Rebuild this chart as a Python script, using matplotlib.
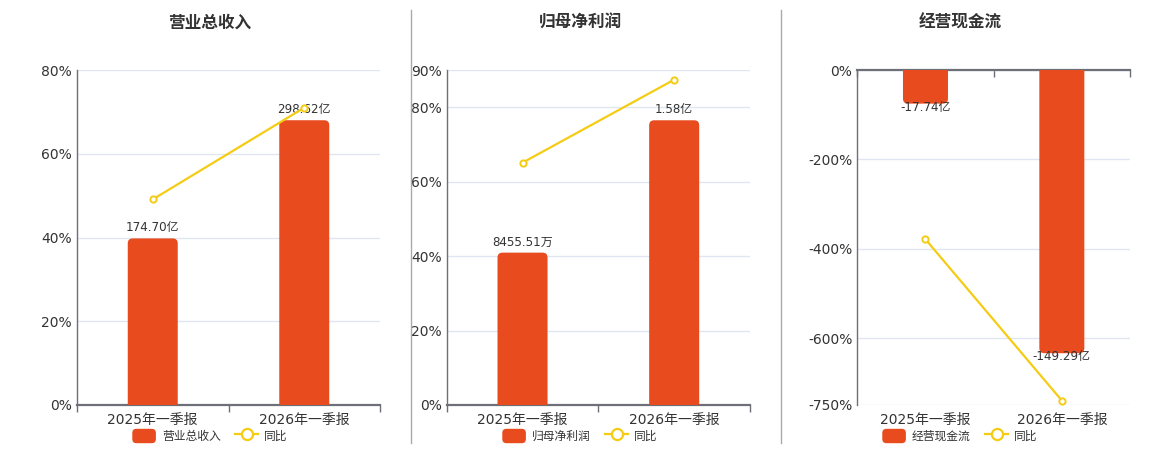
import matplotlib
matplotlib.use('Agg')
import matplotlib.pyplot as plt
from matplotlib.lines import Line2D
from matplotlib.patches import FancyBboxPatch, Patch
from matplotlib.legend_handler import HandlerPatch

plt.rcParams['font.family'] = ['DejaVu Sans', 'Noto Sans CJK SC']

periods = ['2025年一季报', '2026年一季报']

titles = ['营业总收入', '归母净利润', '经营现金流']
bar_values = [[174.70, 298.62], [0.845551, 1.58], [-17.74, -149.29]]  # 亿
bar_labels = [['174.70亿', '298.62亿'], ['8455.51万', '1.58亿'], ['-17.74亿', '-149.29亿']]
yoy_values = [[49.1, 71.0], [65.1, 87.4], [-379.0, -740.0]]  # %
pct_ticks = [[0, 20, 40, 60, 80], [0, 20, 40, 60, 80, 90], [0, -200, -400, -600, -750]]
pct_limits = [(0, 80), (0, 90), (-750, 0)]
bar_limits = [(0, 351.3), (0, 1.859), (-176.6, 0)]

BAR_COLOR = '#E84C1E'
LINE_COLOR = '#F5CC14'
AXIS_COLOR = '#6E7079'
GRID_COLOR = '#E0E6F1'
TEXT_COLOR = '#333333'

W, H = 1160, 450
# axes positions in pixels: left, right, top, bottom
panels = [(77, 380, 70, 405), (446.7, 750, 70, 405), (857.3, 1130, 70, 405)]
centers = [210, 580, 960]
RADIUS_PX = 5


def rounded_legend_patch(legend, orig_handle, xdescent, ydescent, width, height, fontsize):
    return FancyBboxPatch((-xdescent, -ydescent), width, height,
                          boxstyle='round,pad=0,rounding_size=3')


fig = plt.figure(figsize=(W / 100, H / 100), dpi=100)

for i in range(3):
    l, r, t, b = panels[i]
    ax = fig.add_axes([l / W, 1 - b / H, (r - l) / W, (b - t) / H])
    ax.set_xlim(-0.5, 1.5)
    ax.set_ylim(*pct_limits[i])
    ax.set_yticks(pct_ticks[i])
    ax.set_yticklabels([f'{v}%' for v in pct_ticks[i]])
    ax.tick_params(axis='y', length=0, pad=3.6, labelsize=10, labelcolor=TEXT_COLOR)
    ax.grid(axis='y', color=GRID_COLOR, linewidth=1)
    ax.set_axisbelow(True)
    ax.set_xticks(range(len(periods)))
    ax.set_xticklabels(periods)
    ax.set_xticks([-0.5, 0.5, 1.5], minor=True)
    ax.tick_params(axis='x', which='major', length=0, pad=6, labelsize=10, labelcolor=TEXT_COLOR)
    for s in ['top', 'right', 'bottom', 'left']:
        ax.spines[s].set_color(AXIS_COLOR)
    ax.spines['right'].set_visible(False)
    ax.spines['left'].set_linewidth(1)
    negative = pct_limits[i][1] == 0
    if negative:
        # axis line sits at zero, which is the top here
        ax.spines['bottom'].set_visible(False)
        ax.spines['top'].set_linewidth(1.6)
        ax.tick_params(axis='x', which='minor', top=True, bottom=False, direction='in',
                       length=5, color=AXIS_COLOR, width=1)
    else:
        ax.spines['top'].set_visible(False)
        ax.spines['bottom'].set_linewidth(1.6)
        ax.tick_params(axis='x', which='minor', bottom=True, direction='out',
                       length=5, color=AXIS_COLOR, width=1)

    # bars on their own hidden scale
    axb = ax.twinx()
    axb.set_ylim(*bar_limits[i])
    axb.set_axis_off()
    bars = axb.bar(range(len(periods)), bar_values[i], width=0.33, color=BAR_COLOR, zorder=2)
    axb.bar_label(bars, labels=bar_labels[i], padding=-2 if negative else 3,
                  fontsize=8.6, color=TEXT_COLOR, zorder=3)

    # rounded ends: the box runs past the baseline and the axes clip it there
    x_per_px = 2.0 / (r - l)
    y_per_px = (bar_limits[i][1] - bar_limits[i][0]) / (b - t)
    extra = 2 * RADIUS_PX * y_per_px
    for rect in bars:
        x0, w = rect.get_x(), rect.get_width()
        y0, h = rect.get_y(), rect.get_height()
        if h >= 0:
            lo, hgt = y0 - extra, h + extra
        else:
            lo, hgt = y0 + h, -h + extra
        box = FancyBboxPatch((x0, lo), w, hgt,
                             boxstyle=f'round,pad=0,rounding_size={RADIUS_PX * x_per_px}',
                             mutation_aspect=y_per_px / x_per_px,
                             facecolor=BAR_COLOR, edgecolor='none', zorder=2)
        axb.add_patch(box)
        rect.set_visible(False)

    # yoy line on the percent scale
    axl = ax.twinx()
    axl.set_ylim(*pct_limits[i])
    axl.set_axis_off()
    axl.plot(range(len(periods)), yoy_values[i], color=LINE_COLOR, linewidth=1.6,
             marker='o', markersize=4.5, markerfacecolor='white',
             markeredgecolor=LINE_COLOR, markeredgewidth=1.4, clip_on=False)

    fig.text(centers[i] / W, 1 - 23 / H, titles[i], ha='center', va='center',
             fontsize=12, fontweight='bold', color=TEXT_COLOR)

    handles = [Patch(facecolor=BAR_COLOR, edgecolor='none'),
               Line2D([0], [0], color=LINE_COLOR, linewidth=1.6, marker='o', markersize=8,
                      markerfacecolor='white', markeredgecolor=LINE_COLOR, markeredgewidth=1.6)]
    fig.legend(handles, [titles[i], '同比'], loc='center', ncol=2,
               bbox_to_anchor=(centers[i] / W, 1 - 436 / H), frameon=False,
               fontsize=8.5, labelcolor=TEXT_COLOR, handlelength=2.0, handleheight=1.5,
               handletextpad=0.5, columnspacing=1.2, borderpad=0,
               handler_map={Patch: HandlerPatch(patch_func=rounded_legend_patch)})

for xs in [410.5, 780.5]:
    fig.add_artist(Line2D([xs / W, xs / W], [1 - 443 / H, 1 - 10 / H],
                          color='#AAAAAA', linewidth=1))

fig.savefig('out.png', dpi=100)
